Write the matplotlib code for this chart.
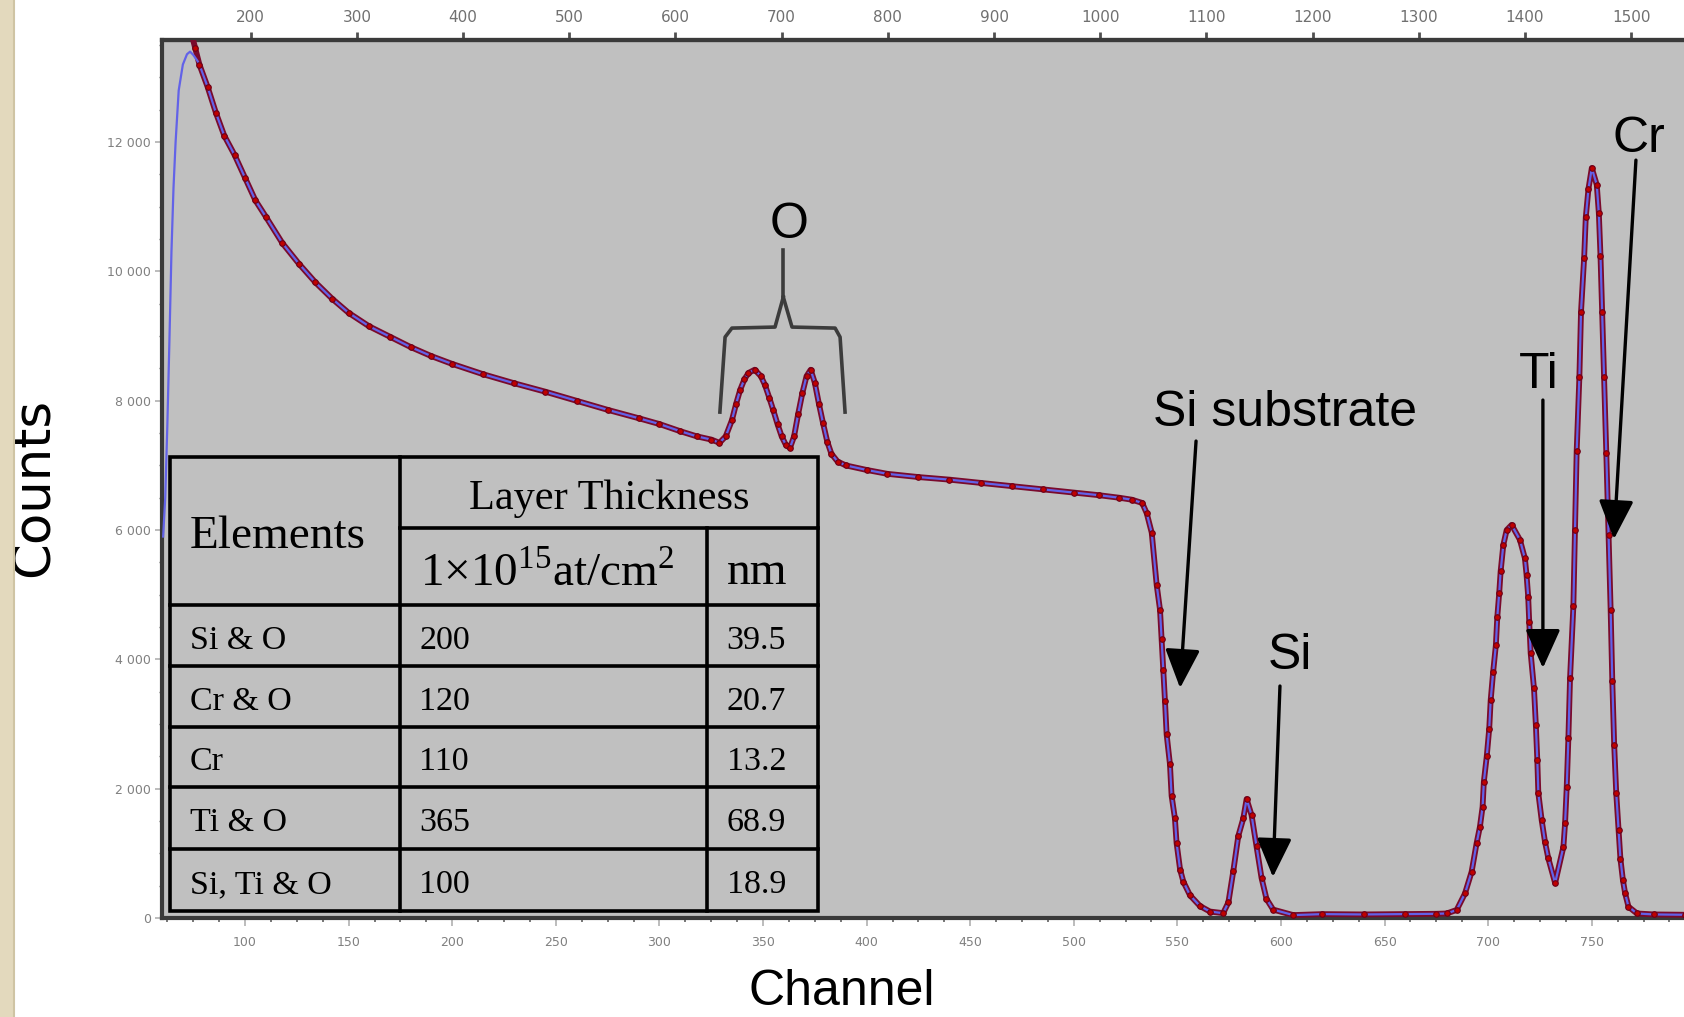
import matplotlib
matplotlib.use("Agg")
import matplotlib.pyplot as plt
import numpy as np
from matplotlib.ticker import MultipleLocator, FuncFormatter, FixedLocator
from matplotlib.patches import Rectangle
from matplotlib.lines import Line2D

# ---------------- data ----------------
meas_channel = [74, 76, 78, 82, 86, 90, 95, 100, 105, 110, 118, 126, 134, 142, 150,
                160, 170, 180, 190, 200, 215, 230, 245, 260, 275, 290, 300, 310, 318,
                325, 329, 332, 335, 337, 339, 341, 343, 346, 349, 351, 353, 355, 357,
                359, 361, 363, 365, 367, 369, 371, 373, 375, 377, 379, 381, 383, 386,
                390, 400, 410, 425, 440, 455, 470, 485, 500, 512, 522, 528, 533,
                535.2, 537.6, 540.0, 541.6, 542.4, 543.2, 544.0, 544.8, 546.4, 547.2,
                548.8, 549.6, 551.3, 552.9, 556.1, 560.9, 565.7, 572.1, 574.6, 577.0,
                579.4, 581.8, 583.4, 585.8, 588.2, 590.6, 593.0, 596.2, 605.9, 620,
                640, 660, 675, 680, 684.8, 688.8, 692.0, 694.4, 696.0, 697.3, 697.9,
                699.3, 700.5, 701.2, 702.4, 703.7, 704.4, 705.3, 706.0, 707.3, 708.9,
                711.3, 715.3, 717.7, 718.5, 719.3, 719.8, 720.5, 722.1, 723.0, 723.7,
                724.2, 725.8, 727.4, 729.0, 732.3, 736.3, 737.1, 737.9, 738.7, 739.5,
                741.1, 741.9, 742.7, 744.0, 744.8, 746.3, 747.1, 748.4, 750.0, 752.4,
                753.4, 754.2, 755.0, 756.0, 757.0, 758.1, 759.1, 759.9, 760.8, 761.8,
                762.9, 763.8, 765.0, 766.1, 767.7, 771.8, 780, 795]
meas_counts = [13700, 13450, 13200, 12850, 12450, 12100, 11800, 11450, 11100, 10850, 10440,
               10120, 9830, 9580, 9360, 9150, 8990, 8830, 8690, 8570, 8410, 8270, 8140,
               8000, 7860, 7730, 7640, 7530, 7450, 7400, 7350, 7450, 7700, 7950, 8170,
               8330, 8430, 8480, 8380, 8240, 8050, 7850, 7640, 7450, 7320, 7270, 7450,
               7800, 8120, 8380, 8480, 8280, 7950, 7650, 7370, 7180, 7060, 7000, 6930,
               6870, 6820, 6780, 6730, 6680, 6630, 6580, 6540, 6500, 6470, 6420, 6260,
               5960, 5150, 4770, 4310, 3830, 3360, 2840, 2380, 1890, 1540, 1160, 750,
               560, 350, 185, 100, 75, 240, 730, 1270, 1540, 1840, 1590, 1110, 620,
               295, 130, 45, 60, 55, 60, 65, 70, 125, 380, 715, 1155, 1410, 1720, 2110,
               2500, 2930, 3370, 3810, 4220, 4660, 5020, 5360, 5770, 6000, 6080, 5850,
               5565, 5310, 4970, 4580, 4095, 3550, 2985, 2445, 1930, 1515, 1180, 925,
               540, 1100, 1465, 2030, 2780, 3710, 4820, 6000, 7220, 8360, 9380, 10210,
               10840, 11280, 11600, 11340, 10900, 10240, 9380, 8360, 7190, 5930, 4760,
               3660, 2680, 1930, 1360, 920, 590, 380, 175, 70, 55, 50]

# simulated spectrum: own rising edge, then coincides with the measurement
fit_head_channel = [60.5, 61.5, 62.5, 63.5, 64.5, 65.5, 66.5, 68, 70, 72, 73.5, 75, 77]
fit_head_counts = [5900, 6500, 7600, 8900, 10300, 11300, 12000, 12800, 13200, 13360,
                   13400, 13350, 13260]
fit_join_channel = 78

table_elements = ["Si & O", "Cr & O", "Cr", "Ti & O", "Si, Ti & O"]
table_density = ["200", "120", "110", "365", "100"]
table_nm = ["39.5", "20.7", "13.2", "68.9", "18.9"]

channel_ticks = list(range(100, 751, 50))
energy_ticks = list(range(200, 1501, 100))
count_ticks = list(range(0, 12001, 2000))

# energy calibration of the upper axis (keV per channel, offset)
kev_per_channel = 1.951
kev_offset = -0.4

# ---------------- figure ----------------
W, H = 1684, 1017
fig = plt.figure(figsize=(W / 100, H / 100), dpi=100)
fig.patch.set_facecolor("white")

ax = fig.add_axes([162 / W, 1 - 918 / H, (W - 162) / W, 878 / H])
ax.set_facecolor("#c0c0c0")
ax.set_xlim(59.94, 794.5)
ax.set_ylim(0, 13580)

fit_channel = fit_head_channel + [c for c in meas_channel if c >= fit_join_channel]
fit_counts = fit_head_counts + [v for c, v in zip(meas_channel, meas_counts) if c >= fit_join_channel]

ax.plot(meas_channel, meas_counts, color="#7a0a2c", lw=4.2, zorder=3, solid_capstyle="round")
ax.plot(fit_channel, fit_counts, color="#6262e8", lw=1.6, zorder=4)
ax.plot(meas_channel, meas_counts, ls="none", marker="o", ms=4.0, mfc="#c00000",
        mec="#6a0018", mew=0.8, zorder=5)

# spines
for s in ["left", "top", "bottom"]:
    ax.spines[s].set_color("#3a3a3a")
    ax.spines[s].set_linewidth(3)
ax.spines["right"].set_visible(False)

# bottom axis
ax.xaxis.set_major_locator(FixedLocator(channel_ticks))
ax.xaxis.set_minor_locator(MultipleLocator(12.5))
ax.tick_params(axis="x", which="major", direction="out", length=6, width=1.2,
               color="#b0b0b0", labelsize=9, labelcolor="#808080", pad=7)
ax.tick_params(axis="x", which="minor", direction="out", length=3, width=1.2,
               color="#606060")
# left axis
ax.yaxis.set_major_locator(FixedLocator(count_ticks))
ax.yaxis.set_minor_locator(MultipleLocator(500))
ax.yaxis.set_major_formatter(FuncFormatter(lambda v, p: f"{int(v):,}".replace(",", " ")))
ax.tick_params(axis="y", which="major", direction="out", length=5, width=1.2,
               color="#b0b0b0", labelsize=9, labelcolor="#808080", pad=3)
ax.tick_params(axis="y", which="minor", direction="out", length=2, width=1,
               color="#707070")

# top energy axis
sec = ax.secondary_xaxis("top", functions=(lambda c: kev_per_channel * np.asarray(c) + kev_offset,
                                           lambda e: (np.asarray(e) - kev_offset) / kev_per_channel))
sec.xaxis.set_major_locator(FixedLocator(energy_ticks))
sec.tick_params(axis="x", direction="out", length=6, width=2, color="#505050",
                labelsize=11, labelcolor="#707070", pad=5)
sec.spines["top"].set_color("#3a3a3a")
sec.spines["top"].set_linewidth(3)

# axis titles
fig.text(34.5 / W, 1 - 487 / H, "Counts", rotation=90, ha="center", va="center",
         fontsize=37, family="DejaVu Sans", color="black")
fig.text(842 / W, 1 - 992 / H, "Channel", ha="center", va="center",
         fontsize=36, family="Liberation Sans", color="black")

# ---------------- annotations ----------------
afont = dict(family="Liberation Sans", fontsize=36, color="black", ha="center", va="center")
arrow = dict(arrowstyle="-|>,head_length=1.0,head_width=0.45", mutation_scale=24,
             lw=2.4, color="black", shrinkA=0, shrinkB=0)

ax.text(362.5, 10717, "O", zorder=8, **afont)
brace_x = [[359.8, 359.8], [359.8, 355.8, 335.0, 331.7, 329.2], [359.8, 364.0, 384.8, 387.2, 389.6]]
brace_y = [[10331, 9604], [9604, 9140, 9124, 8985, 7825], [9604, 9140, 9124, 8985, 7825]]
for bx, by in zip(brace_x, brace_y):
    ax.plot(bx, by, color="#3c3c3c", lw=2.6, zorder=8, solid_joinstyle="round")

ax.text(601.9, 7810, "Si substrate", zorder=8, **afont)
ax.annotate("", xy=(551.3, 3557), xytext=(559.0, 7377), arrowprops=arrow, zorder=8)
ax.text(604.3, 4050, "Si", zorder=8, **afont)
ax.annotate("", xy=(596.1, 634), xytext=(599.5, 3588), arrowprops=arrow, zorder=8)
ax.text(724.5, 8400, "Ti", zorder=8, **afont)
ax.annotate("", xy=(726.4, 3866), xytext=(726.4, 8011), arrowprops=arrow, zorder=8)
ax.text(772.8, 12050, "Cr", zorder=8, **afont)
ax.annotate("", xy=(760.7, 5861), xytext=(771.3, 11722), arrowprops=arrow, zorder=8)

# ---------------- overlay (pixel coordinates) ----------------
ov = fig.add_axes([0, 0, 1, 1], zorder=10)
ov.set_xlim(0, W)
ov.set_ylim(H, 0)
ov.axis("off")

# decorative beige strip on the left
ov.add_patch(Rectangle((0, 0), 14, H, facecolor="#e3d9bd", edgecolor="none"))
ov.add_line(Line2D([14, 14], [0, H], color="#cfc4a4", lw=1.5))

# table
col_x = [170, 399.5, 706.7, 818.4]
row_y = [456.5, 528.4, 604.7, 665.9, 727.1, 787.2, 848.5, 910.8]
ov.add_patch(Rectangle((col_x[0], row_y[0]), col_x[3] - col_x[0], row_y[-1] - row_y[0],
                       facecolor="#c0c0c0", edgecolor="black", lw=2.6))
lw_t = 2.6
ov.add_line(Line2D([col_x[1], col_x[1]], [row_y[0], row_y[-1]], color="black", lw=lw_t))
ov.add_line(Line2D([col_x[2], col_x[2]], [row_y[1], row_y[-1]], color="black", lw=lw_t))
ov.add_line(Line2D([col_x[1], col_x[3]], [row_y[1], row_y[1]], color="black", lw=lw_t))
for yy in row_y[2:-1]:
    ov.add_line(Line2D([col_x[0], col_x[3]], [yy, yy], color="black", lw=lw_t))

plt.rcParams["mathtext.fontset"] = "custom"
plt.rcParams["mathtext.rm"] = "Liberation Serif"
serif = dict(family="Liberation Serif", color="black", va="center")
dy = 6
ov.text(col_x[0] + 20, (row_y[0] + row_y[2]) / 2 + dy, "Elements", fontsize=34, ha="left", **serif)
ov.text((col_x[1] + col_x[3]) / 2, (row_y[0] + row_y[1]) / 2 + dy, "Layer Thickness",
        fontsize=30.5, ha="center", **serif)
ov.text(col_x[1] + 20, (row_y[1] + row_y[2]) / 2 + dy + 1, r"1×10$^{\mathrm{15}}$at/cm$^{\mathrm{2}}$",
        fontsize=34, ha="left", **serif)
ov.text(col_x[2] + 20, (row_y[1] + row_y[2]) / 2 + dy, "nm", fontsize=34, ha="left", **serif)
for i, (el, dn, nm) in enumerate(zip(table_elements, table_density, table_nm)):
    yc = (row_y[2 + i] + row_y[3 + i]) / 2 + dy - 1
    ov.text(col_x[0] + 20, yc, el, fontsize=24.5, ha="left", **serif)
    ov.text(col_x[1] + 20, yc, dn, fontsize=24.5, ha="left", **serif)
    ov.text(col_x[2] + 20, yc, nm, fontsize=24.5, ha="left", **serif)

fig.savefig("out.png", dpi=100, facecolor="white")
